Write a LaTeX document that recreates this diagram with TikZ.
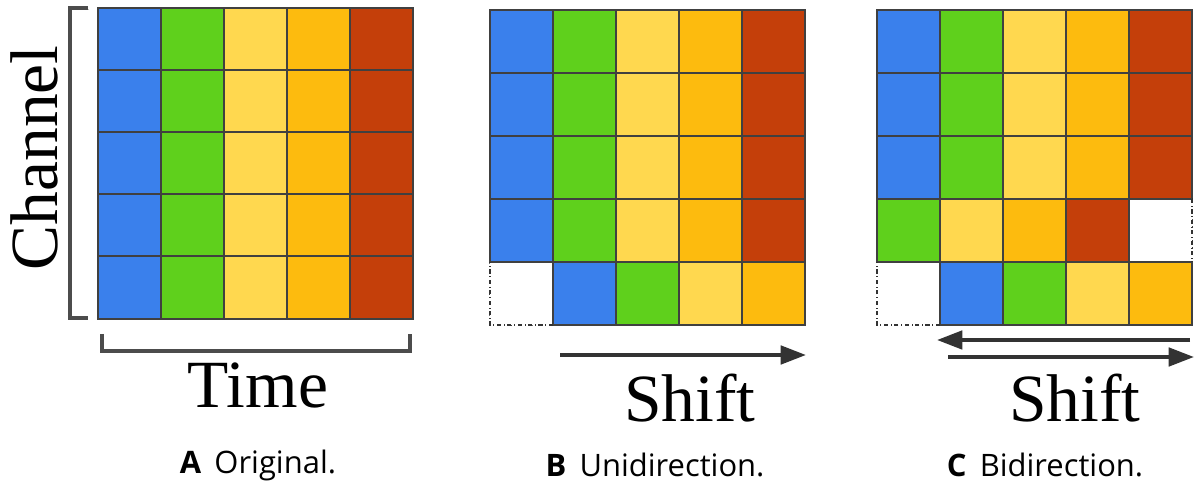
\documentclass[tikz,border=0pt]{standalone}
\usepackage{fontspec}
\newfontfamily\labfont{Open Sans}
\newfontfamily\bigfont{Liberation Serif}
\usetikzlibrary{arrows.meta}
\definecolor{cA}{HTML}{3A80EC}
\definecolor{cB}{HTML}{5FD01C}
\definecolor{cC}{HTML}{FFD84F}
\definecolor{cD}{HTML}{FDBB0E}
\definecolor{cE}{HTML}{C43F0A}
\tikzset{>={Triangle[length=18pt,width=13pt]},
  cell/.style={draw=black!75,line width=0.9pt},
  hole/.style={draw=black!80,dash dot,line width=0.9pt},
  shiftarr/.style={->,line width=2.8pt,black!80},
  big/.style={font=\bigfont\fontsize{48}{48}\selectfont},
  caption/.style={font=\labfont\fontsize{22}{22}\selectfont}}
% one cell: x y colour (pixel corner, top left)
\newcommand\cellat[3]{
    \fill[#3] (#1,#2) rectangle ++(63,63);
    \draw[cell] (#1,#2) rectangle ++(63,63);
}
\begin{document}
\begin{tikzpicture}[x=0.025cm,y=-0.025cm]
            \useasboundingbox (0,0) rectangle (1200,490);
            % A
            \foreach \r in {0,...,4}
              \foreach \c/\col in {0/cA,1/cB,2/cC,3/cD,4/cE}
                \cellat{98+63*\c}{8+62*\r}{\col}
            \draw[line width=2.2pt,black!70] (88,8) -- (70,8) -- (70,318) -- (88,318);
            \draw[line width=2.2pt,black!70] (102,334) -- (102,351) -- (410,351) -- (410,334);
            \node[big,rotate=90] (chan) at (34,158) {Channel};
            \node[big] (time) at (258,385) {Time};
            % B
            \foreach \r in {0,...,3}
              \foreach \c/\col in {0/cA,1/cB,2/cC,3/cD,4/cE}
                \cellat{490+63*\c}{10+63*\r}{\col}
            \foreach \c/\col in {1/cA,2/cB,3/cC,4/cD}
              \cellat{490+63*\c}{262}{\col}
            \draw[hole] (553,325) -- (490,325) -- (490,262);
            \coordinate (b1) at (560,355);
            \coordinate (b2) at (806,355);
            \draw[shiftarr] (b1) -- (b2);
            \node[big] (shb) at (690,398) {Shift};
            % C
            \foreach \r in {0,...,2}
              \foreach \c/\col in {0/cA,1/cB,2/cC,3/cD,4/cE}
                \cellat{877+63*\c}{10+63*\r}{\col}
            \foreach \c/\col in {0/cB,1/cC,2/cD,3/cE}
              \cellat{877+63*\c}{199}{\col}
            \foreach \c/\col in {1/cA,2/cB,3/cC,4/cD}
              \cellat{877+63*\c}{262}{\col}
            \draw[hole] (1192,199) -- (1192,262);
            \draw[hole] (940,325) -- (877,325) -- (877,262);
            \coordinate (c1) at (1190,340);
            \coordinate (c2) at (937,340);
            \coordinate (c3) at (948,357);
            \coordinate (c4) at (1194,357);
            \draw[shiftarr] (c1) -- (c2);
            \draw[shiftarr] (c3) -- (c4);
            \node[big] (shc) at (1075,398) {Shift};
            % captions
            \node[caption] (capa) at (258,465) {\textbf{A}\, Original.};
            \node[caption] (capb) at (655,465) {\textbf{B}\, Unidirection.};
            \node[caption] (capc) at (1045,465) {\textbf{C}\, Bidirection.};
\end{tikzpicture}
\end{document}
